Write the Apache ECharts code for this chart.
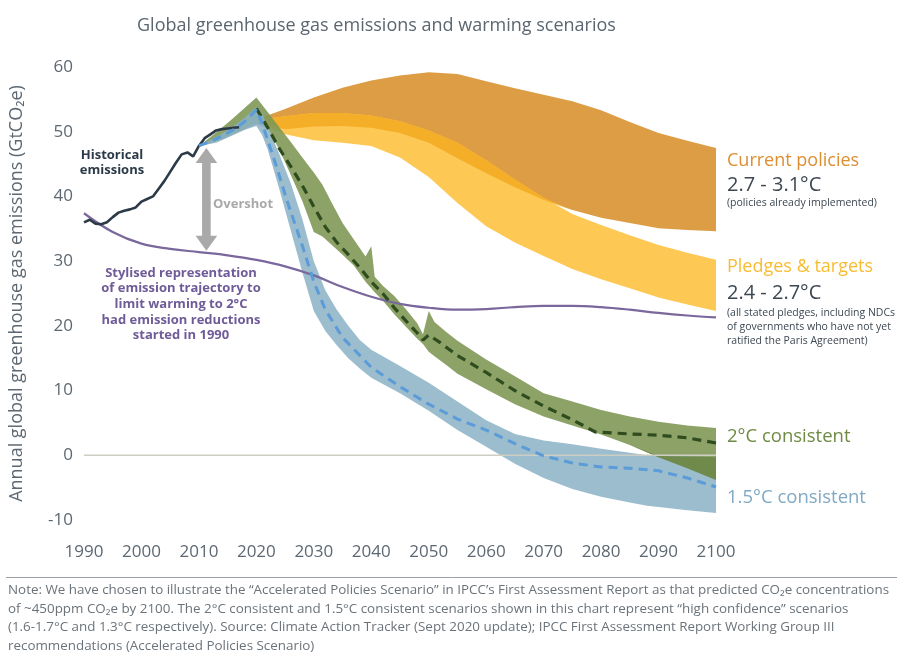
<!DOCTYPE html>
<html>
<head>
<meta charset="utf-8">
<script src="https://cdn.jsdelivr.net/npm/echarts@6/dist/echarts.min.js"></script>
<style>html,body{margin:0;padding:0;background:#fff;}#chart{width:904px;height:661px;}</style>
</head>
<body>
<div id="chart"></div>
<script>
// ---------- DATA ----------
const histYears = [1990,1991,1992,1993,1994,1995,1996,1997,1998,1999,2000,2001,2002,2003,2004,2005,2006,2007,2008,2009,2010,2011,2012,2013,2014,2015,2016,2017];
const histValues = [36.0,36.4,35.8,35.7,36.0,36.8,37.5,37.8,38.0,38.3,39.2,39.6,40.0,41.2,42.4,43.8,45.2,46.5,46.8,46.2,47.8,49.0,49.6,50.2,50.4,50.5,50.6,50.7];

const stylYears = [1990,1995,2000,2005,2010,2015,2020,2025,2030,2035,2040,2045,2050,2055,2060,2065,2070,2075,2080,2085,2090,2095,2100];
const stylValues = [37.4,34.5,32.7,31.9,31.4,30.9,30.2,29.2,27.8,26.0,24.5,23.4,22.8,22.5,22.6,22.9,23.1,23.1,22.9,22.5,22.0,21.6,21.3];

const scenYears = [2020,2025,2030,2035,2040,2045,2050,2055,2060,2065,2070,2075,2080,2085,2090,2095,2100];
const cpTop    = [51.9,53.5,55.3,56.8,57.9,58.7,59.2,58.9,57.8,56.7,55.7,54.7,53.3,51.5,49.8,48.6,47.5];
const cpBottom = [51.6,50.4,50.8,50.9,50.6,49.8,48.3,45.9,43.6,41.4,39.5,37.9,36.7,35.9,35.1,34.8,34.6];
const plTop    = [51.8,52.4,52.9,52.9,52.5,51.6,50.2,48.3,45.6,42.6,39.8,37.3,35.6,34.0,32.5,31.3,30.2];
const plBottom = [51.5,49.6,48.7,48.3,47.8,46.0,43.0,39.0,35.4,32.9,30.8,28.8,27.2,25.8,24.4,23.3,22.3];

const c2Years  = [2010,2012,2014,2016,2018,2020,2022,2024,2026,2028,2030,2031.5,2033,2035,2037,2039,2040,2040.6,2042,2044,2046,2048,2049,2050,2051,2053,2055,2060,2065,2070,2075,2080,2085,2090,2095,2100];
const c2Top    = [47.8,49.2,50.6,52.1,53.7,55.3,53.0,50.7,48.4,46.0,43.7,41.8,39.2,35.9,33.3,30.7,32.3,27.6,26.2,24.6,22.6,20.4,18.7,22.3,20.6,19.1,17.7,14.8,12.2,9.6,8.3,7.0,6.0,5.2,4.6,4.2];
const c2Bottom = [47.8,48.2,48.8,49.6,50.4,51.2,50.5,47.2,43.3,39.3,34.5,33.8,32.6,31.0,29.3,26.8,25.8,25.2,23.9,21.8,19.9,18.0,17.2,16.0,15.3,14.0,12.6,10.2,7.9,6.0,4.6,3.2,1.6,-0.3,-2.0,-3.8];
const c2MidYears = [2020,2022,2024,2026,2028,2030,2032,2034,2036,2038,2040,2042,2044,2046,2048,2049,2050,2052,2055,2060,2065,2070,2075,2079,2085,2090,2095,2100];
const c2Mid      = [53.6,50.6,47.4,44.6,41.7,38.4,35.3,32.9,31.0,29.0,26.8,25.0,22.8,20.8,18.9,17.8,18.6,17.4,15.4,12.8,10.0,7.6,5.5,3.6,3.3,3.1,2.7,1.9];

const c15Years  = [2010,2013,2016,2018,2020,2021,2022,2024,2026,2028,2030,2032,2034,2036,2038,2040,2045,2050,2055,2060,2065,2070,2075,2080,2085,2088,2090,2095,2100];
const c15Top    = [47.8,49.2,50.8,52.2,53.8,52.8,50.8,46.5,42.0,36.5,30.0,25.5,22.5,20.0,17.8,16.3,13.8,11.2,8.3,5.4,3.3,2.3,1.7,1.0,0.4,0.0,-0.1,-0.2,-0.3];
const c15Bottom = [47.8,48.3,49.5,50.3,50.9,49.5,47.2,41.1,34.7,28.3,22.3,19.2,17.0,15.0,13.4,12.0,9.6,6.9,3.9,1.3,-1.3,-3.5,-5.2,-6.4,-7.3,-7.8,-8.0,-8.5,-8.9];
const c15MidYears = [2010,2013,2016,2018,2020,2021,2022,2023,2024,2025,2026,2027,2028,2029,2030,2032,2035,2040,2045,2050,2055,2060,2065,2070,2075,2080,2085,2090,2095,2100];
const c15Mid      = [47.8,48.9,50.3,51.6,53.4,51.3,48.6,46.0,43.2,40.3,37.6,35.0,32.4,29.6,26.8,22.5,18.2,13.6,10.6,7.9,5.6,3.9,1.8,-0.1,-1.2,-1.8,-2.0,-2.4,-3.5,-4.9];

// overshot arrow: [year, top, bottom]
const overshoot = [2011.3, 47.5, 31.6];
const zeroLineYears = [1990, 2100];

// ---------- derived overlap bands ----------
const goldLo = scenYears.map((y,i)=>Math.max(cpBottom[i], plBottom[i]));
const goldHi = scenYears.map((y,i)=>Math.max(goldLo[i], Math.min(cpTop[i], plTop[i])));

const ovYears = [2080,2085,2090,2095,2100];
function valAt(xs, vs, x){ const i = xs.indexOf(x); return vs[i]; }
const ovLo = ovYears.map(y=>Math.max(valAt(c2Years,c2Bottom,y), valAt(c15Years,c15Bottom,y)));
const ovHi = ovYears.map((y,i)=>Math.max(ovLo[i], Math.min(valAt(c2Years,c2Top,y), valAt(c15Years,c15Top,y))));

// ---------- helpers ----------
function band(name, xs, lo, hi, color, opacity, z){
  return {
    type:'custom', name:name, z:z, silent:true, animation:false,
    data: xs.map((x,i)=>[x, lo[i], hi[i]]),
    encode:{x:0, y:[1,2]},
    renderItem:function(params, api){
      if (params.dataIndex !== 0) return null;
      const pts = [];
      for (let i=0;i<xs.length;i++) pts.push(api.coord([xs[i], hi[i]]));
      for (let i=xs.length-1;i>=0;i--) pts.push(api.coord([xs[i], lo[i]]));
      return {type:'polygon', shape:{points:pts}, style:{fill:color, opacity:opacity}};
    }
  };
}
function line(name, xs, vs, color, width, type, z, smooth){
  return {
    type:'line', name:name, z:z, silent:true, animation:false, showSymbol:false, symbol:'none',
    smooth: smooth || false,
    data: xs.map((x,i)=>[x, vs[i]]),
    lineStyle:{color:color, width:width, type:type || 'solid', cap:'butt'}
  };
}

const axisFont = 'Open Sans';
const chart = echarts.init(document.getElementById('chart'), null, {renderer:'canvas'});

const option = {
  animation:false,
  backgroundColor:'#ffffff',
  grid:{left:79, right:188, top:67, bottom:141},
  xAxis:{
    type:'value', min:1990, max:2100, interval:10,
    axisLine:{show:false}, axisTick:{show:false}, splitLine:{show:false},
    axisLabel:{margin:24, fontSize:17, color:'#5d6872', fontFamily:axisFont, formatter:function(v){return String(v);}}
  },
  yAxis:{
    type:'value', min:-10, max:60, interval:10,
    axisLine:{show:false}, axisTick:{show:false}, splitLine:{show:false},
    axisLabel:{margin:11, fontSize:17, color:'#5d6872', fontFamily:axisFont},
    name:'Annual global greenhouse gas emissions (GtCO\u2082e)',
    nameLocation:'middle', nameRotate:90, nameGap:58,
    nameTextStyle:{fontSize:18, color:'#5d6872', fontFamily:axisFont}
  },
  series:[
    band('Current policies', scenYears, cpBottom, cpTop, '#DD9D45', 1, 1),
    band('Pledges & targets', scenYears, plBottom, plTop, '#FEC854', 1, 2),
    band('Overlap', scenYears, goldLo, goldHi, '#F5AE27', 1, 3),
    band('2°C consistent', c2Years, c2Bottom, c2Top, '#809857', 0.9, 4),
    band('1.5°C consistent', c15Years, c15Bottom, c15Top, '#89B2C5', 0.85, 5),
    band('2°C / 1.5°C overlap', ovYears, ovLo, ovHi, '#6F8A4B', 1, 6),
    line('zero', zeroLineYears, [0,0], '#cdcdc3', 1.5, 'solid', 7),
    line('Stylised 2°C from 1990', stylYears, stylValues, '#7a679c', 2.2, 'solid', 8, 0.4),
    line('Historical emissions', histYears, histValues, '#2c3a47', 2.6, 'solid', 9),
    line('2°C median', c2MidYears, c2Mid, '#2f4c1f', 3.2, [9,6], 10),
    line('1.5°C median', c15MidYears, c15Mid, '#5a9bd8', 3, [9,6], 11),
    {
      type:'custom', name:'Overshot', z:12, silent:true, animation:false,
      data:[overshoot], encode:{x:0, y:[1,2]},
      renderItem:function(params, api){
        const p1 = api.coord([api.value(0), api.value(1)]);
        const p2 = api.coord([api.value(0), api.value(2)]);
        const cx = p1[0], t = p1[1], b = p2[1], hw = 4.3, hh = 10.8, hl = 15;
        return {type:'polygon', shape:{points:[
          [cx,t],[cx+hh,t+hl],[cx+hw,t+hl],[cx+hw,b-hl],[cx+hh,b-hl],[cx,b],
          [cx-hh,b-hl],[cx-hw,b-hl],[cx-hw,t+hl],[cx-hh,t+hl]
        ]}, style:{fill:'#a9a9a9'}};
      }
    }
  ],
  graphic:[
    {type:'text', style:{x:137, y:26, text:'Global greenhouse gas emissions and warming scenarios', font:'18px "Open Sans"', fill:'#5b6670', verticalAlign:'middle'}},
    {type:'text', style:{x:112, y:148, text:'Historical\nemissions', font:'bold 13px "Open Sans"', lineHeight:15, fill:'#2c3a47', align:'center', verticalAlign:'top'}},
    {type:'text', style:{x:213, y:204, text:'Overshot', font:'bold 13px "Open Sans"', fill:'#a9a9a9', verticalAlign:'middle'}},
    {type:'text', style:{x:181, y:265, text:'Stylised representation\nof emission trajectory to\nlimit warming to 2°C\nhad emission reductions\nstarted in 1990', font:'bold 13px "Open Sans"', lineHeight:15.7, fill:'#6f5b98', align:'center', verticalAlign:'top'}},
    {type:'text', style:{x:727, y:161, text:'Current policies', font:'18px "Open Sans"', fill:'#DE8E30', verticalAlign:'middle'}},
    {type:'text', style:{x:727, y:185, text:'2.7 - 3.1°C', font:'20px "Open Sans"', fill:'#3d4752', verticalAlign:'middle'}},
    {type:'text', style:{x:727, y:203, text:'(policies already implemented)', font:'10.5px "Open Sans"', fill:'#3d4752', verticalAlign:'middle'}},
    {type:'text', style:{x:727, y:267, text:'Pledges & targets', font:'18px "Open Sans"', fill:'#F8BC2E', verticalAlign:'middle'}},
    {type:'text', style:{x:727, y:293, text:'2.4 - 2.7°C', font:'20px "Open Sans"', fill:'#3d4752', verticalAlign:'middle'}},
    {type:'text', style:{x:727, y:306, text:'(all stated pledges, including NDCs\nof governments who have not yet\nratified the Paris Agreement)', font:'10.5px "Open Sans"', lineHeight:14, fill:'#3d4752', verticalAlign:'top'}},
    {type:'text', style:{x:727, y:437, text:'2°C consistent', font:'18.5px "Open Sans"', fill:'#6E8A45', verticalAlign:'middle'}},
    {type:'text', style:{x:727, y:498, text:'1.5°C consistent', font:'18.5px "Open Sans"', fill:'#80A9C4', verticalAlign:'middle'}},
    {type:'line', shape:{x1:6, y1:577.5, x2:897, y2:577.5}, style:{stroke:'#9aa0a5', lineWidth:1}},
    {type:'text', style:{x:8, y:581, text:'Note: We have chosen to illustrate the \u201cAccelerated Policies Scenario\u201d in IPCC\u2019s First Assessment Report as that predicted CO\u2082e concentrations\nof ~450ppm CO\u2082e by 2100. The 2°C consistent and 1.5°C consistent scenarios shown in this chart represent \u201chigh confidence\u201d scenarios\n(1.6-1.7°C and 1.3°C respectively). Source: Climate Action Tracker (Sept 2020 update); IPCC First Assessment Report Working Group III\nrecommendations (Accelerated Policies Scenario)', font:'13.4px "Open Sans"', lineHeight:18.6, fill:'#6b737a', verticalAlign:'top'}}
  ]
};
chart.setOption(option);
</script>
</body>
</html>
